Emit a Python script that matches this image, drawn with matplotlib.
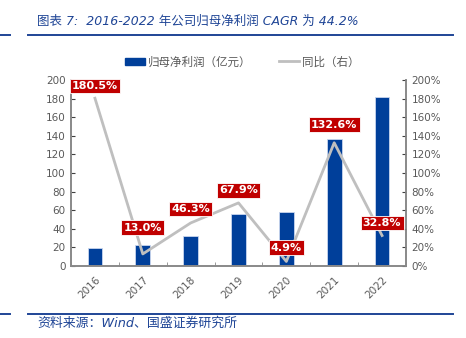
import numpy as np
import matplotlib
matplotlib.use('Agg')
import matplotlib.pyplot as plt
from matplotlib.lines import Line2D
from matplotlib.patches import Patch

plt.rcParams['font.family'] = ['DejaVu Sans', 'Noto Sans CJK SC']

years = ['2016', '2017', '2018', '2019', '2020', '2021', '2022']
profit = [19.8, 22.4, 32.8, 55.6, 58.4, 136.8, 182.3]
yoy = [180.5, 13.0, 46.3, 67.9, 4.9, 132.6, 32.8]
yoy_labels = ['180.5%', '13.0%', '46.3%', '67.9%', '4.9%', '132.6%', '32.8%']

BLUE = '#003F9A'
GRAY_LINE = '#BFBFBF'
RED = '#C00000'
TEXT = '#595959'
TITLE = '#1F4596'

fig = plt.figure(figsize=(4.66, 3.38), dpi=100)
ax = fig.add_axes([0.1524, 0.213, 0.7188, 0.55])
x = np.arange(len(years))

ax.bar(x, profit, width=0.31, color=BLUE, edgecolor='#C9D6EE', linewidth=0.6, zorder=2)
ax.set_xlim(-0.5, len(years) - 0.5)
ax.set_ylim(0, 200)
ax.set_yticks(np.arange(0, 201, 20))
ax.set_xticks(x)
ax.set_xticklabels(years, rotation=45, ha='right', rotation_mode='anchor')
ax.set_xticks(np.arange(-0.5, len(years)), minor=True)
ax.tick_params(axis='x', which='major', length=0, pad=6, labelsize=7.5, labelcolor=TEXT)
ax.tick_params(axis='x', which='minor', length=3, direction='in', color='#898989')
ax.tick_params(axis='y', direction='in', length=3, color='#404040', labelsize=7.5, labelcolor=TEXT, pad=4)

ax2 = ax.twinx()
ax2.plot(x, yoy, color=GRAY_LINE, lw=2, zorder=3)
ax2.set_ylim(0, 200)
ax2.set_yticks(np.arange(0, 201, 20))
ax2.set_yticklabels([f'{v}%' for v in range(0, 201, 20)])
ax2.tick_params(axis='y', direction='in', length=3, color='#404040', labelsize=7.5, labelcolor=TEXT, pad=4)

for a in (ax, ax2):
    a.spines['top'].set_visible(False)
    for s in ('left', 'right', 'bottom'):
        a.spines[s].set_color('#898989')
        a.spines[s].set_linewidth(1.2)

# red value tags above the yoy points
offsets = [9, 19, 10, 9, 10, 13, 9]
for i, (v, lab) in enumerate(zip(yoy, yoy_labels)):
    ax2.annotate(lab, (x[i], v), xytext=(0, offsets[i]), textcoords='offset points',
                 ha='center', va='center', color='white', fontsize=8, fontweight='bold',
                 bbox=dict(boxstyle='square,pad=0.2', fc=RED, ec='white', lw=0.6), zorder=5)

handles = [Patch(facecolor=BLUE, edgecolor=BLUE),
           Line2D([0], [0], color=GRAY_LINE, lw=2)]
fig.legend(handles, ['归母净利润（亿元）', '同比（右）'], loc='center', bbox_to_anchor=(0.52, 0.817),
           ncol=2, frameon=False, fontsize=8.3, labelcolor=TEXT, handlelength=1.7,
           handleheight=0.6, columnspacing=2.4, handletextpad=0.3)

# title and source with rules
fig.text(0.079, 0.936, '图表 7:  2016-2022 年公司归母净利润 CAGR 为 44.2%', color=TITLE,
         fontsize=9, fontstyle='italic', va='center', ha='left')
fig.add_artist(Line2D([0.06, 0.972], [0.896, 0.896], color=TITLE, lw=1.4))
fig.add_artist(Line2D([0.0, 0.021], [0.896, 0.896], color=TITLE, lw=1.4))
fig.add_artist(Line2D([0.06, 0.972], [0.072, 0.072], color=TITLE, lw=1.4))
fig.add_artist(Line2D([0.0, 0.021], [0.072, 0.072], color=TITLE, lw=1.4))
fig.text(0.081, 0.043, '资料来源：Wind、国盛证券研究所', color=TITLE, fontsize=9.3,
         fontstyle='italic', va='center', ha='left')

fig.savefig('out.png', dpi=100)
